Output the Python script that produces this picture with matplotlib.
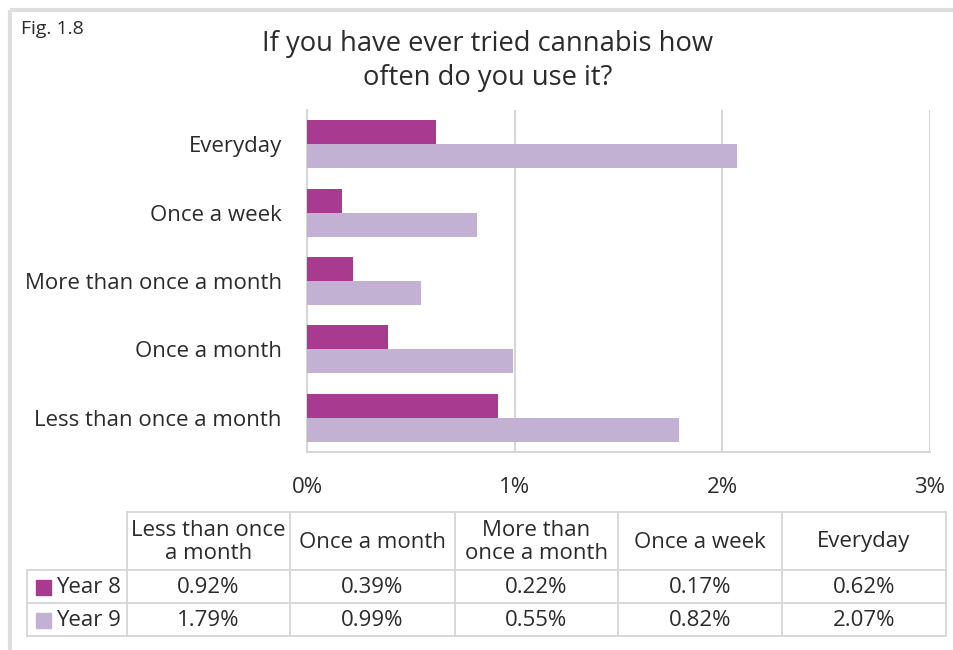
import matplotlib.pyplot as plt
from matplotlib.patches import Rectangle

plt.rcParams['font.family'] = ['Open Sans', 'DejaVu Sans']

# Survey answers, bottom to top on the chart
categories = ["Less than once a month", "Once a month", "More than once a month",
              "Once a week", "Everyday"]
table_headers = ["Less than once\na month", "Once a month", "More than\nonce a month",
                 "Once a week", "Everyday"]
year8 = [0.92, 0.39, 0.22, 0.17, 0.62]
year9 = [1.79, 0.99, 0.55, 0.82, 2.07]
series_names = ["Year 8", "Year 9"]
x_ticks = [0, 1, 2, 3]

c8 = '#a83b8f'
c9 = '#c2b1d3'
grid_c = '#d6d6d6'
text_c = '#2b2b2b'
fs = 16

W, H = 954, 650
fig = plt.figure(figsize=(W / 100, H / 100), dpi=100)

# full-figure overlay in pixel coordinates for frame and table
ov = fig.add_axes([0, 0, 1, 1])
ov.set_xlim(0, W)
ov.set_ylim(H, 0)
ov.axis('off')

ov.plot([10, 10], [10, H], color='#dedede', lw=3, solid_capstyle='butt')
ov.plot([10, W], [10, 10], color='#dedede', lw=3, solid_capstyle='butt')
ov.text(21, 29, "Fig. 1.8", fontsize=14, color=text_c, va='center', ha='left')
ov.text(488, 61, "If you have ever tried cannabis how\noften do you use it?",
        fontsize=19.7, color=text_c, ha='center', va='center', linespacing=1.3)

# bar chart
ax = fig.add_axes([307 / W, 1 - 452 / H, (930 - 307) / W, (452 - 110) / H])
h = 0.35
ys = list(range(len(categories)))
ax.barh([y + h / 2 for y in ys], year8, height=h, color=c8, zorder=3)
ax.barh([y - h / 2 for y in ys], year9, height=h, color=c9, zorder=3)
ax.set_xlim(0, 3)
ax.set_ylim(-0.5, len(categories) - 0.5)
ax.set_xticks(x_ticks)
ax.set_xticklabels([f"{t}%" for t in x_ticks], fontsize=fs, color=text_c)
ax.set_yticks(ys)
ax.set_yticklabels(categories, fontsize=fs, color=text_c)
ax.tick_params(axis='x', length=0, pad=18)
ax.tick_params(axis='y', length=0, pad=18)
ax.xaxis.grid(True, color=grid_c, lw=1.5, zorder=0)
for s in ['top', 'right']:
    ax.spines[s].set_visible(False)
for s in ['left', 'bottom']:
    ax.spines[s].set_color(grid_c)
    ax.spines[s].set_linewidth(1.5)

# data table below the chart
col_x = [27, 127, 290, 455, 618, 782, 946]
row_y = [512, 570, 603, 636]
lw_t = 1.3
# horizontal lines
ov.plot([col_x[1], col_x[-1]], [row_y[0], row_y[0]], color=grid_c, lw=lw_t)
for y in row_y[1:]:
    ov.plot([col_x[0], col_x[-1]], [y, y], color=grid_c, lw=lw_t)
# vertical lines
ov.plot([col_x[0], col_x[0]], [row_y[1], row_y[-1]], color=grid_c, lw=lw_t)
for x in col_x[1:]:
    ov.plot([x, x], [row_y[0], row_y[-1]], color=grid_c, lw=lw_t)

for i, head in enumerate(table_headers):
    cx = (col_x[i + 1] + col_x[i + 2]) / 2
    ov.text(cx, (row_y[0] + row_y[1]) / 2 + 1, head, ha='center', va='center',
            fontsize=fs, color=text_c, linespacing=1.1)

for r, (name, vals, col) in enumerate(zip(series_names, [year8, year9], [c8, c9])):
    cy = (row_y[r + 1] + row_y[r + 2]) / 2
    ov.add_patch(Rectangle((36, cy - 7), 15, 15, color=col))
    ov.text(56, cy + 1, name, ha='left', va='center', fontsize=fs, color=text_c)
    for i, v in enumerate(vals):
        cx = (col_x[i + 1] + col_x[i + 2]) / 2
        ov.text(cx, cy + 1, f"{v:.2f}%", ha='center', va='center',
                fontsize=fs, color=text_c)

fig.savefig('out.png', dpi=100)
